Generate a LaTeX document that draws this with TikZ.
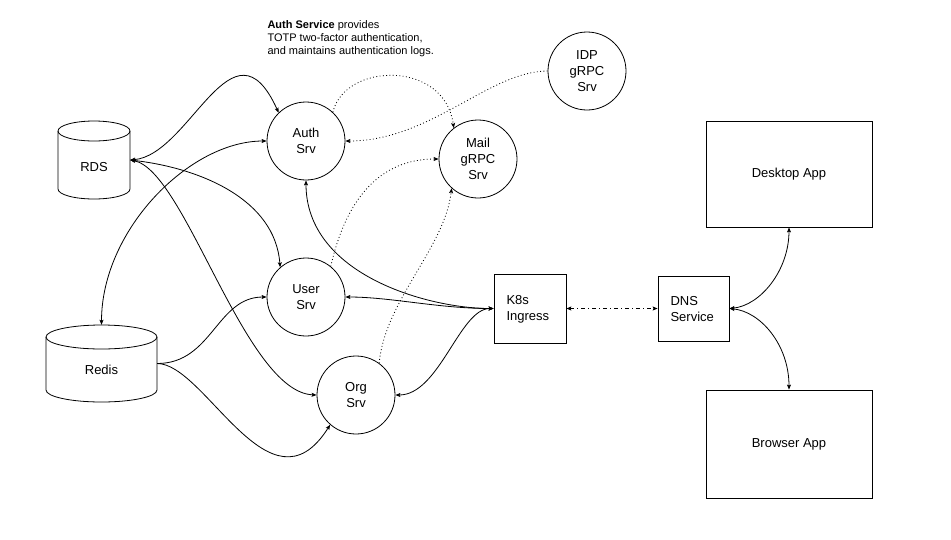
\documentclass[tikz,border=0pt]{standalone}
\usepackage{fontspec}
\setmainfont{Liberation Sans}
\usetikzlibrary{arrows.meta}
\begin{document}
\begin{tikzpicture}[x=1pt,y=-1pt,
  every node/.style={font=\fontsize{13}{16}\selectfont},
  svc/.style={circle,draw,line width=0.8pt,minimum size=78pt,inner sep=0pt,align=center},
  box/.style={rectangle,draw,line width=0.8pt,inner sep=0pt},
  dbarea/.style={rectangle,inner sep=0pt},
  tip/.style={-{Stealth[length=5pt,width=4pt,inset=1pt]}},
  both/.style={{Stealth[length=5pt,width=4pt,inset=1pt]}-{Stealth[length=5pt,width=4pt,inset=1pt]}},
  link/.style={line width=0.8pt},
  dot/.style={line width=0.8pt,dash pattern=on 0.9pt off 2.4pt},
  dashdot/.style={line width=0.8pt,dash pattern=on 4pt off 3pt on 1pt off 3pt}]
\useasboundingbox (0,0) rectangle (951,539);

% cylinders
\draw[line width=0.8pt] (58,131) -- (58,189) arc[start angle=180,end angle=0,x radius=36,y radius=10] -- (130,131);
\draw[line width=0.8pt] (94,131) ellipse[x radius=36,y radius=10];
\node[dbarea,minimum width=72pt,minimum height=78pt] (rds) at (94,160) {};
\node at (94,167) {RDS};

\draw[line width=0.8pt] (46,337) -- (46,390) arc[start angle=180,end angle=0,x radius=55.5,y radius=12] -- (157,337);
\draw[line width=0.8pt] (101.5,337) ellipse[x radius=55.5,y radius=12];
\node[dbarea,minimum width=111pt,minimum height=77pt] (redis) at (101.5,363.5) {};
\node at (101.5,370) {Redis};

% services
\node[svc] (auth) at (306,141) {Auth\\Srv};
\node[svc] (user) at (306,297) {User\\Srv};
\node[svc] (org) at (356,395) {Org\\Srv};
\node[svc] (mail) at (478,159) {Mail\\gRPC\\Srv};
\node[svc] (idp) at (587,71) {IDP\\gRPC\\Srv};

\node[box,minimum width=72pt,minimum height=69pt] (k8s) at (530,308.5) {};
\node[anchor=west,align=left] at (503,309) {K8s\\Ingress};
\node[box,minimum width=71pt,minimum height=65pt] (dns) at (693.5,308.5) {};
\node[anchor=west,align=left] at (667,309) {DNS\\Service};
\node[box,minimum width=166pt,minimum height=106pt] (desk) at (789,174) {Desktop App};
\node[box,minimum width=166pt,minimum height=108pt] (brow) at (789,444) {Browser App};

\node[anchor=north west,align=left,font=\fontsize{11}{13}\selectfont] (note) at (264,17)
  {\textbf{Auth Service} provides\\TOTP two-factor authentication,\\and maintains authentication logs.};

% RDS links
\draw[link,both] (rds.east) .. controls +(60,-5) and +(-46,-101) .. (auth.134);
\draw[link,both] (rds.east) .. controls +(70,8) and +(-5,-68) .. (user.131);
\draw[link,both] (rds.east) .. controls +(55,10) and +(-72,-3) .. (org.west);
% Redis links
\draw[link,both] (redis.north) .. controls +(0,-95) and +(-77,0) .. (auth.west);
\draw[link,tip] (redis.east) .. controls +(55,0) and +(-50,0) .. (user.west);
\draw[link,tip] (redis.east) .. controls +(48,0) and +(-60,95) .. (org.229);
% Ingress links
\draw[link,both] (k8s.west) .. controls +(-64,0) and +(0,95) .. (auth.south);
\draw[link,both] (k8s.west) .. controls +(-55,0) and +(45,0) .. (user.east);
\draw[link,both] (k8s.west) .. controls +(-34,0) and +(44,0) .. (org.east);
% dotted gRPC links
\draw[dot,tip] (auth.47) .. controls +(12,-50) and +(-9,-68) .. (mail.128);
\draw[dot,tip] (idp.west) .. controls +(-58,0) and +(85,0) .. (auth.east);
\draw[dot,tip] (user.51) .. controls +(15,-67) and +(-59,0) .. (mail.west);
\draw[dot,tip] (org.54) .. controls +(6,-63) and +(-7,60) .. (mail.228);
% DNS links
\draw[dashdot,both] (k8s.east) -- (dns.west);
\draw[link,both] (dns.east) .. controls +(31,-3) and +(0,43) .. (desk.south);
\draw[link,both] (dns.east) .. controls +(31,3) and +(0,-45) .. (brow.north);
\end{tikzpicture}
\end{document}
